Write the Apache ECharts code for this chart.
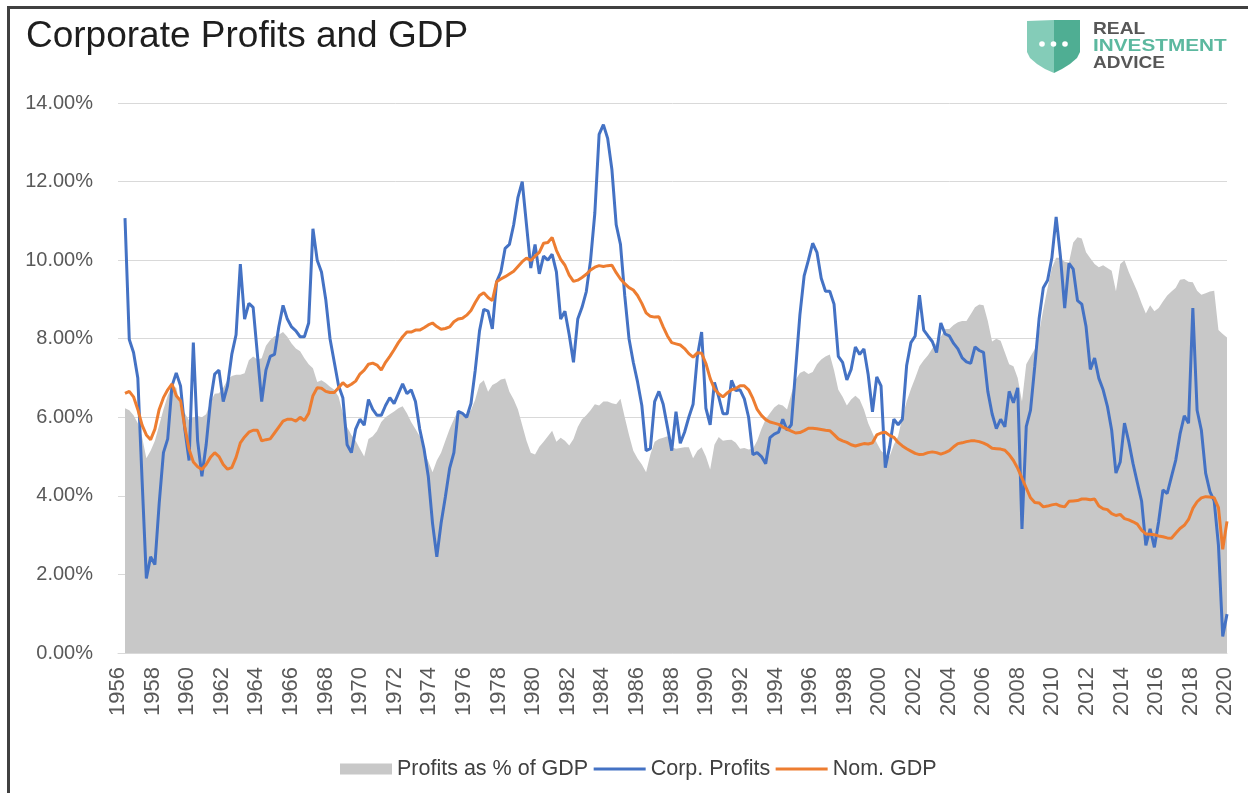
<!DOCTYPE html>
<html>
<head>
<meta charset="utf-8">
<title>Corporate Profits and GDP</title>
<script src="https://cdn.jsdelivr.net/npm/echarts@6/dist/echarts.min.js"></script>
<style>
  html, body { margin: 0; padding: 0; background: #fff; }
  #wrap { position: relative; width: 1248px; height: 793px; overflow: hidden; }
  #frame {
    position: absolute; left: 7px; top: 6px; width: 1260px; height: 800px;
    border-left: 3px solid #404040; border-top: 3px solid #404040;
  }
  #chart { position: absolute; left: 0; top: 0; width: 1248px; height: 793px; }
</style>
</head>
<body>
<div id="wrap">
  <div id="frame"></div>
  <div id="chart"></div>
</div>
<script>
// quarterly, 1956Q1 .. 2020Q3
var startYear = 1956;

// Profits as % of GDP (grey area)
var profitShare = [
  6.23, 6.18, 6.05, 5.85, 5.5, 4.96, 5.15, 5.4,
  5.8, 6.2, 6.55, 6.8, 6.75, 6.23, 6.1, 5.92,
  6.0, 6.03, 6.0, 6.08, 6.38, 6.6, 6.61, 6.75,
  6.95, 7.05, 7.08, 7.08, 7.12, 7.45, 7.55, 7.47,
  7.5, 7.82, 7.97, 8.06, 8.1, 8.17, 8.05, 7.88,
  7.75, 7.68, 7.5, 7.35, 7.25, 6.9, 6.94, 6.87,
  6.78, 6.7, 6.52, 6.1, 5.75, 5.55, 5.4, 5.2,
  5.0, 5.45, 5.52, 5.65, 5.88, 6.0, 6.08, 6.15,
  6.23, 6.28, 6.1, 5.88, 5.7, 5.52, 5.15, 4.88,
  4.6, 4.9, 5.1, 5.4, 5.7, 5.95, 6.18, 6.04,
  6.08, 6.18, 6.45, 6.85, 6.94, 6.65, 6.82, 6.88,
  6.96, 6.99, 6.65, 6.45, 6.2, 5.8, 5.4, 5.1,
  5.05, 5.25, 5.38, 5.52, 5.66, 5.38, 5.48, 5.4,
  5.28, 5.45, 5.75, 5.95, 6.05, 6.18, 6.33, 6.3,
  6.4, 6.4, 6.36, 6.33, 6.47, 6.0, 5.55, 5.15,
  4.95, 4.8, 4.6, 5.05, 5.38, 5.45, 5.48, 5.52,
  5.24, 5.2, 5.22, 5.24, 5.24, 4.96, 5.15, 5.24,
  5.0, 4.67, 5.3, 5.5, 5.4, 5.42, 5.43, 5.35,
  5.2, 5.22, 5.18, 5.2, 5.4, 5.7, 5.95, 6.1,
  6.25, 6.33, 6.3, 6.2, 6.6, 6.95, 7.13, 7.18,
  7.1, 7.15, 7.35, 7.47, 7.55, 7.6, 7.2, 6.7,
  6.52, 6.3, 6.45, 6.55, 6.45, 6.2, 5.85, 5.6,
  5.35, 5.15, 5.05, 5.0, 5.3, 5.52, 6.0, 6.4,
  6.72, 7.0, 7.3, 7.45, 7.58, 7.75, 7.9, 8.05,
  8.25, 8.25, 8.35, 8.42, 8.45, 8.45, 8.62, 8.8,
  8.87, 8.85, 8.45, 7.93, 8.0, 7.95, 7.65, 7.35,
  7.3, 7.0, 6.4, 7.35, 7.55, 7.74, 8.15, 8.75,
  9.3, 9.8, 10.06, 10.06, 9.96, 9.94, 10.45, 10.58,
  10.55, 10.2, 10.05, 9.9, 9.82, 9.87, 9.8, 9.73,
  9.21, 9.9, 10.0, 9.7, 9.45, 9.2, 8.9, 8.64,
  8.85, 8.7, 8.78, 8.95, 9.1, 9.2, 9.3, 9.5,
  9.52, 9.45, 9.44, 9.22, 9.12, 9.16, 9.2, 9.22,
  8.22, 8.12, 8.03
];

// Corp. Profits (blue)
var corpProfits = [
  11.07, 7.98, 7.65, 7.0, 4.4, 1.9, 2.45, 2.25,
  3.8, 5.1, 5.45, 6.8, 7.13, 6.8, 5.7, 4.9,
  7.9, 5.4, 4.5, 5.3, 6.4, 7.1, 7.2, 6.4,
  6.8, 7.6, 8.1, 9.9, 8.5, 8.9, 8.8, 7.6,
  6.4, 7.2, 7.55, 7.6, 8.3, 8.85, 8.5, 8.3,
  8.2, 8.05, 8.05, 8.4, 10.8, 10.0, 9.7, 9.0,
  8.0, 7.4, 6.8, 6.5, 5.3, 5.1, 5.7, 5.95,
  5.8, 6.45, 6.2, 6.05, 6.05, 6.3, 6.5, 6.35,
  6.6, 6.85, 6.6, 6.7, 6.4, 5.7, 5.2, 4.5,
  3.3, 2.45, 3.3, 3.97, 4.7, 5.1, 6.15, 6.1,
  6.0, 6.35, 7.2, 8.2, 8.75, 8.7, 8.25, 9.45,
  9.7, 10.3, 10.4, 10.9, 11.6, 12.0, 10.9, 9.8,
  10.4, 9.65, 10.1, 10.0, 10.15, 9.7, 8.5, 8.7,
  8.1, 7.4, 8.5, 8.8, 9.2, 10.0, 11.2, 13.2,
  13.45, 13.1, 12.3, 10.9, 10.4, 9.1, 8.0, 7.4,
  6.9, 6.3, 5.15, 5.2, 6.4, 6.66, 6.33, 5.75,
  5.15, 6.14, 5.34, 5.62, 6.0, 6.33, 7.55, 8.17,
  6.23, 5.81, 6.89, 6.52, 6.09, 6.09, 6.94, 6.68,
  6.7, 6.47, 6.0, 5.05, 5.1, 5.0, 4.82, 5.48,
  5.57, 5.62, 5.95, 5.67, 5.81, 7.2, 8.6, 9.6,
  10.0, 10.43, 10.2, 9.54, 9.21, 9.21, 8.88, 7.55,
  7.4, 6.95, 7.22, 7.79, 7.6, 7.74, 7.08, 6.14,
  7.03, 6.8, 4.72, 5.24, 5.95, 5.81, 5.95, 7.32,
  7.9, 8.07, 9.11, 8.22, 8.07, 7.93, 7.65, 8.4,
  8.12, 8.07, 7.88, 7.74, 7.51, 7.41, 7.37, 7.79,
  7.7, 7.65, 6.66, 6.09, 5.71, 5.95, 5.76, 6.66,
  6.37, 6.75, 3.16, 5.76, 6.18, 7.3, 8.5, 9.3,
  9.49, 10.06, 11.1, 10.1, 8.78, 9.92, 9.77, 8.97,
  8.88, 8.31, 7.22, 7.51, 6.99, 6.7, 6.28, 5.67,
  4.58, 4.86, 5.85, 5.38, 4.82, 4.34, 3.87, 2.74,
  3.16, 2.69, 3.35, 4.15, 4.06, 4.49, 4.91, 5.57,
  6.04, 5.85, 8.78, 6.18, 5.67, 4.58, 4.11, 3.87,
  2.74, 0.42, 0.99
];

// Nom. GDP (orange)
var nomGdp = [
  6.61, 6.66, 6.52, 6.2, 5.8, 5.55, 5.43, 5.7,
  6.2, 6.5, 6.7, 6.85, 6.55, 6.42, 5.75, 5.19,
  4.86, 4.74, 4.67, 4.8, 4.98, 5.1, 5.0, 4.8,
  4.68, 4.72, 4.98, 5.35, 5.5, 5.62, 5.67, 5.67,
  5.4, 5.43, 5.45, 5.6, 5.75, 5.9, 5.95, 5.95,
  5.9, 6.0, 5.92, 6.1, 6.55, 6.75, 6.74, 6.66,
  6.63, 6.63, 6.75, 6.88, 6.78, 6.84, 6.92, 7.1,
  7.2, 7.35, 7.38, 7.33, 7.2, 7.4, 7.55, 7.72,
  7.9, 8.05, 8.17, 8.17, 8.22, 8.22, 8.28, 8.35,
  8.4, 8.31, 8.24, 8.26, 8.3, 8.43, 8.5, 8.52,
  8.6, 8.72, 8.92, 9.1, 9.17, 9.05, 8.97, 9.45,
  9.52, 9.58, 9.65, 9.72, 9.84, 9.96, 10.05, 9.99,
  10.1, 10.2, 10.43, 10.45, 10.58, 10.25, 10.02, 9.87,
  9.62, 9.46, 9.49, 9.56, 9.64, 9.75, 9.82, 9.86,
  9.84, 9.86, 9.87, 9.68, 9.52, 9.4, 9.3, 9.24,
  9.1, 8.9, 8.66, 8.57, 8.55, 8.56, 8.3, 8.07,
  7.9, 7.87, 7.84, 7.75, 7.62, 7.53, 7.64, 7.63,
  7.37, 6.99, 6.72, 6.6, 6.52, 6.62, 6.7, 6.73,
  6.8, 6.8, 6.7, 6.48, 6.2, 6.05, 5.94, 5.88,
  5.85, 5.82, 5.75, 5.7, 5.65, 5.6, 5.61, 5.66,
  5.72, 5.72, 5.71, 5.69, 5.67, 5.66, 5.56, 5.45,
  5.4, 5.36, 5.3, 5.27, 5.3, 5.33, 5.32, 5.35,
  5.55, 5.6, 5.62, 5.54, 5.49, 5.36, 5.27, 5.2,
  5.14, 5.08, 5.05, 5.06, 5.1, 5.12, 5.1, 5.06,
  5.1, 5.15, 5.25, 5.33, 5.35, 5.38, 5.4, 5.4,
  5.38, 5.34, 5.29, 5.21, 5.2, 5.19, 5.16, 5.05,
  4.9, 4.7, 4.45, 4.2, 3.95, 3.83, 3.82, 3.72,
  3.74, 3.77, 3.79, 3.74, 3.72, 3.86, 3.87, 3.88,
  3.92, 3.92, 3.9, 3.92, 3.74, 3.67, 3.65, 3.55,
  3.5, 3.53, 3.42, 3.39, 3.34, 3.28, 3.13, 3.03,
  3.02, 3.01, 2.98, 2.96, 2.93, 2.92, 3.05, 3.17,
  3.25, 3.4, 3.68, 3.85, 3.95, 3.98, 3.97, 3.95,
  3.7, 2.64, 3.35
];

// quarter categories
var quarters = [];
for (var i = 0; i < corpProfits.length; i++) {
  quarters.push((startYear + Math.floor(i / 4)) + 'Q' + (i % 4 + 1));
}

var axisGrey = '#595959';
var font = '"Liberation Sans", Arial, sans-serif';

var myChart = echarts.init(document.getElementById('chart'));
var option = {
  animation: false,
  title: {
    text: 'Corporate Profits and GDP',
    left: 21,
    top: 13,
    textStyle: { fontFamily: font, fontSize: 37, fontWeight: 'normal', color: '#1e1e1e' }
  },
  legend: {
    left: 340,
    top: 758,
    padding: 0,
    itemWidth: 52,
    itemHeight: 11,
    itemGap: 4,
    textStyle: { fontFamily: font, fontSize: 21.5, color: '#404040' },
    data: [
      { name: 'Profits as % of GDP', icon: 'rect' },
      { name: 'Corp. Profits', itemStyle: { opacity: 0 }, lineStyle: { width: 3 } },
      { name: 'Nom. GDP', itemStyle: { opacity: 0 }, lineStyle: { width: 3 } }
    ]
  },
  // grid 0: gridlines + year labels, grid 1: the series
  grid: [
    { left: 118, right: 21, top: 103, height: 550 },
    { left: 125, right: 21, top: 103, height: 550 }
  ],
  xAxis: [
    {
      gridIndex: 0,
      type: 'value',
      min: 1956,
      max: 2020.1,
      interval: 2,
      splitLine: { show: false },
      axisTick: { show: false },
      axisLine: { lineStyle: { color: '#d9d9d9', width: 1 } },
      axisLabel: {
        rotate: 90,
        margin: 14,
        color: axisGrey,
        fontFamily: font,
        fontSize: 22,
        formatter: function (v) { return Number.isInteger(v) ? String(v) : ''; }
      }
    },
    {
      gridIndex: 1,
      type: 'category',
      boundaryGap: false,
      data: quarters,
      show: false
    }
  ],
  yAxis: [
    {
      gridIndex: 0,
      type: 'value',
      min: 0,
      max: 14,
      interval: 2,
      axisLine: { show: false },
      axisTick: { show: false },
      splitLine: { lineStyle: { color: '#d9d9d9', width: 1 } },
      axisLabel: {
        margin: 25,
        color: axisGrey,
        fontFamily: font,
        fontSize: 20,
        formatter: function (v) { return v.toFixed(2) + '%'; }
      }
    },
    { gridIndex: 1, type: 'value', min: 0, max: 14, show: false }
  ],
  series: [
    {
      name: 'Profits as % of GDP',
      type: 'line',
      xAxisIndex: 1,
      yAxisIndex: 1,
      data: profitShare,
      symbol: 'none',
      itemStyle: { color: '#c8c8c8' },
      lineStyle: { width: 0, color: '#c8c8c8' },
      areaStyle: { color: '#c8c8c8', opacity: 1 }
    },
    {
      name: 'Corp. Profits',
      type: 'line',
      xAxisIndex: 1,
      yAxisIndex: 1,
      data: corpProfits,
      symbol: 'none',
      itemStyle: { color: '#4472c4' },
      lineStyle: { width: 3, color: '#4472c4' }
    },
    {
      name: 'Nom. GDP',
      type: 'line',
      xAxisIndex: 1,
      yAxisIndex: 1,
      data: nomGdp,
      symbol: 'none',
      itemStyle: { color: '#ed7d31' },
      lineStyle: { width: 3, color: '#ed7d31' }
    }
  ],
  // Real Investment Advice logo
  graphic: [
    {
      type: 'polygon',
      shape: { points: [[1027, 21], [1054, 20], [1054, 73], [1045, 69], [1037, 64], [1030, 58], [1027, 52]] },
      style: { fill: '#84ccb8' }
    },
    {
      type: 'polygon',
      shape: { points: [[1054, 20], [1080, 20], [1080, 52], [1077, 58], [1070, 64], [1062, 69], [1054, 73]] },
      style: { fill: '#4fae93' }
    },
    { type: 'circle', shape: { cx: 1042, cy: 44, r: 2.8 }, style: { fill: '#fff' } },
    { type: 'circle', shape: { cx: 1053.5, cy: 44, r: 2.8 }, style: { fill: '#fff' } },
    { type: 'circle', shape: { cx: 1065, cy: 44, r: 2.8 }, style: { fill: '#fff' } },
    {
      type: 'text', x: 1093, y: 29, scaleX: 1.13,
      style: { text: 'REAL', fill: '#575757', font: 'bold 17px ' + font, verticalAlign: 'middle' }
    },
    {
      type: 'text', x: 1093, y: 46, scaleX: 1.22,
      style: { text: 'INVESTMENT', fill: '#5cb89f', font: 'bold 17px ' + font, verticalAlign: 'middle' }
    },
    {
      type: 'text', x: 1093, y: 63, scaleX: 1.12,
      style: { text: 'ADVICE', fill: '#575757', font: 'bold 17px ' + font, verticalAlign: 'middle' }
    }
  ]
};
myChart.setOption(option);
</script>
</body>
</html>
